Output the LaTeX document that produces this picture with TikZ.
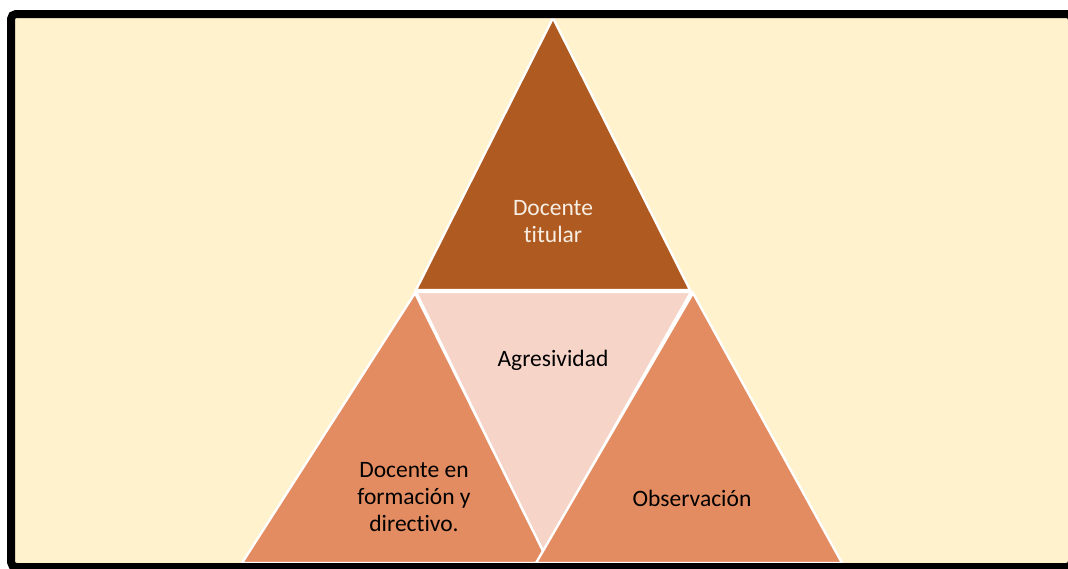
\documentclass[tikz,border=0pt]{standalone}
\usepackage{fontspec}
\setmainfont{Carlito}[Ligatures={NoCommon}]
\definecolor{cream}{HTML}{FFF2CC}
\definecolor{brownT}{HTML}{AF5A21}
\definecolor{orangeT}{HTML}{E48C61}
\definecolor{pinkT}{HTML}{F6D4C8}
\definecolor{lighttext}{HTML}{F7EEE4}
\tikzset{
  tri/.style={draw=white, line width=2.4pt, line join=miter},
  lbl/.style={align=center, font=\fontsize{23.5}{27}\selectfont, inner sep=0pt},
}
\begin{document}
\begin{tikzpicture}[x=1pt,y=-1pt]
\useasboundingbox (0,0) rectangle (1068,568);
\begin{scope}
\clip (0,0) rectangle (1068,568);
\fill[cream] (11,14) rectangle (1072,567);
\begin{scope}
\clip (15,18) rectangle (1067,563);
\path[tri, fill=brownT] (553,18) -- (690,290) -- (416,290) -- cycle;
\path[tri, fill=pinkT] (416,292) -- (691,292) -- (543,553) -- cycle;
\path[tri, fill=orangeT] (415,293) -- (549,563) -- (242,563) -- cycle;
\path[tri, fill=orangeT] (693,293) -- (842,563) -- (536,563) -- cycle;
\end{scope}
\draw[black, line width=8pt, rounded corners=5pt] (11,14) rectangle (1072,567);
\end{scope}
\node[lbl, text=lighttext] (top) at (553,222) {Docente\\titular};
\node[lbl] (mid) at (553,360) {Agresividad};
\node[lbl] (left) at (414,497) {Docente en\\formación y\\directivo.};
\node[lbl] (right) at (692,498) {Observación};
\end{tikzpicture}
\end{document}
